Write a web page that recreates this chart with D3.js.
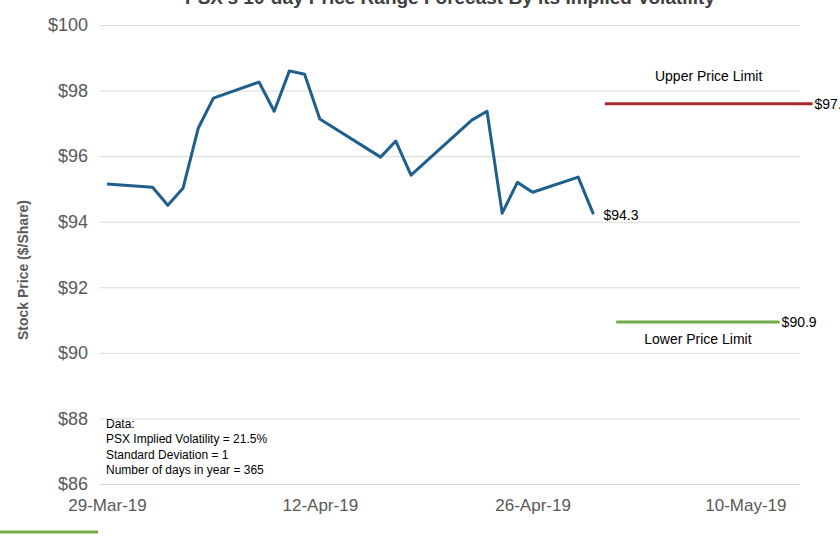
<!DOCTYPE html>
<html><head><meta charset="utf-8">
<script src="https://cdn.jsdelivr.net/npm/d3@7"></script>
<style>body{margin:0;background:#fff}text{font-family:"Liberation Sans",Arial,sans-serif}</style>
</head><body><svg id="c" width="840" height="536"></svg>
<script>
const dates = ['2019-03-29','2019-04-01','2019-04-02','2019-04-03','2019-04-04','2019-04-05','2019-04-08','2019-04-09','2019-04-10','2019-04-11','2019-04-12','2019-04-16','2019-04-17','2019-04-18','2019-04-22','2019-04-23','2019-04-24','2019-04-25','2019-04-26','2019-04-29','2019-04-30']
const prices = [95.15,95.05,94.5,95.02,96.85,97.77,98.26,97.37,98.6,98.5,97.13,95.97,96.46,95.42,97.1,97.37,94.26,95.2,94.9,95.36,94.23]
const yTicks = [86,88,90,92,94,96,98,100]
const xTicks = ['2019-03-29','2019-04-12','2019-04-26','2019-05-10']
const upperLimit = { value: 97.6, from: '2019-04-30T18:00', to: '2019-05-14T10:00' }
const lowerLimit = { value: 90.94, from: '2019-05-01T12:00', to: '2019-05-12T06:00' }
const notes = ['Data:','PSX Implied Volatility = 21.5%','Standard Deviation  = 1','Number of days in year = 365']

const parse = s => new Date(s.length > 10 ? s : s + 'T00:00')
const fmt = d3.timeFormat('%d-%b-%y')
const svg = d3.select('#c')
const x = d3.scaleTime().domain([parse('2019-03-29'), parse('2019-05-10')]).range([107, 107 + 42 * 15.2])
const y = d3.scaleLinear().domain([86, 100]).range([484, 25])

svg.append('text').attr('x', 450).attr('y', 4).attr('text-anchor', 'middle')
  .attr('font-size', 19).attr('font-weight', 'bold').attr('fill', '#404040')
  .text("PSX's 10-day Price Range Forecast By its Implied Volatility")

svg.append('g').attr('transform', 'translate(800,0)')
  .call(d3.axisLeft(y).tickValues(yTicks).tickSize(700).tickFormat(d => `$${d}`))
  .call(g => {
    g.select('.domain').remove()
    g.selectAll('.tick line').attr('stroke', '#d9d9d9')
    g.selectAll('.tick text').attr('x', -712).attr('font-size', 18).attr('fill', '#595959')
  })

svg.append('g').attr('transform', 'translate(0,484)')
  .call(d3.axisBottom(x).tickValues(xTicks.map(parse)).tickSize(0).tickFormat(fmt))
  .call(g => {
    g.select('.domain').remove()
    g.selectAll('.tick text').attr('dy', 24).attr('font-size', 17).attr('fill', '#595959')
  })

svg.append('text').attr('transform', 'translate(28,270) rotate(-90)').attr('text-anchor', 'middle')
  .attr('font-size', 14).attr('font-weight', 'bold').attr('fill', '#595959').text('Stock Price ($/Share)')

const series = dates.map((d, i) => ({ date: parse(d), value: prices[i] }))
svg.append('path').datum(series).attr('fill', 'none').attr('stroke', '#1f5f8b').attr('stroke-width', 3)
  .attr('stroke-linejoin', 'round')
  .attr('d', d3.line().x(d => x(d.date)).y(d => y(d.value)))
const last = series[series.length - 1]
svg.append('text').attr('x', x(last.date) + 10).attr('y', y(last.value) + 6).attr('font-size', 14).text('$94.3')

const limits = [
  { ...upperLimit, color: '#a52a2a', label: 'Upper Price Limit', ly: -23, vl: '$97.6' },
  { ...lowerLimit, color: '#70ad47', label: 'Lower Price Limit', ly: 22, vl: '$90.9' },
]
limits.forEach(l => {
  const x1 = x(parse(l.from)), x2 = x(parse(l.to))
  svg.append('line').attr('x1', x1).attr('x2', x2).attr('y1', y(l.value)).attr('y2', y(l.value))
    .attr('stroke', l.color).attr('stroke-width', 3)
  svg.append('text').attr('x', x2 + 2).attr('y', y(l.value) + 5).attr('font-size', 14).text(l.vl)
  svg.append('text').attr('x', (x1 + x2) / 2).attr('y', y(l.value) + l.ly).attr('text-anchor', 'middle')
    .attr('font-size', 14).attr('fill', '#000').text(l.label)
})

svg.append('g').selectAll('text').data(notes).join('text')
  .attr('x', 106).attr('y', (d, i) => 428 + i * 15.3).attr('font-size', 12).text(d => d)

svg.append('line').attr('x1', 0).attr('x2', 98).attr('y1', 532).attr('y2', 532)
  .attr('stroke', '#70ad47').attr('stroke-width', 3)
</script></body></html>
